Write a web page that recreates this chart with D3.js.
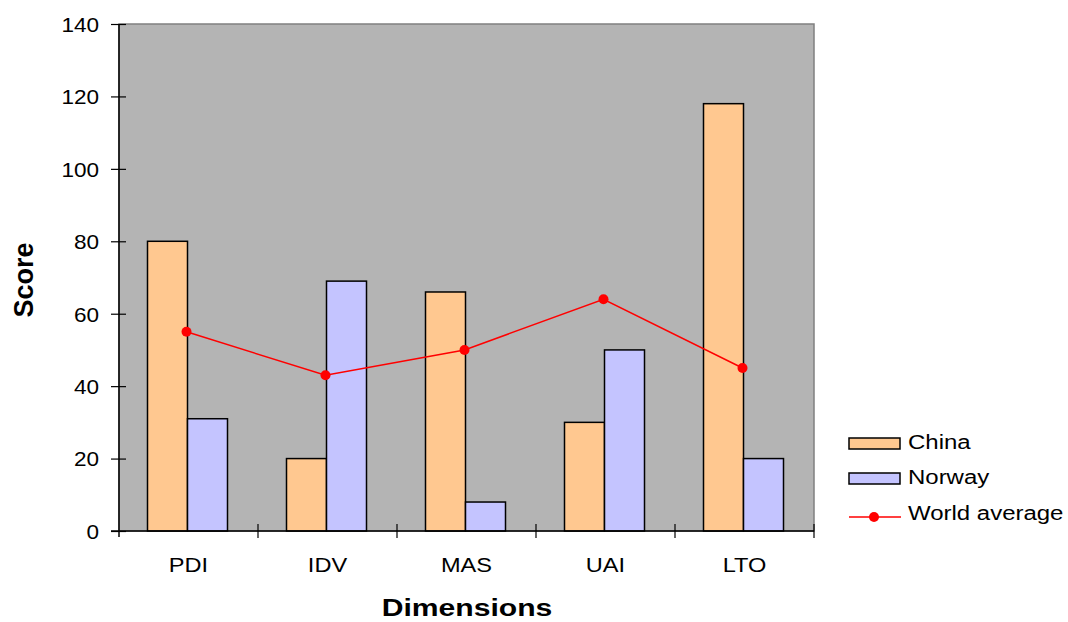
<!DOCTYPE html>
<html><head><meta charset="utf-8">
<script src="https://cdn.jsdelivr.net/npm/d3@7"></script>
<style>body{margin:0;background:#fff}svg{display:block;font-family:"Liberation Sans",Arial,sans-serif}</style>
</head><body>
<svg id="c" width="1068" height="622"></svg>
<script>
const categories = ["PDI","IDV","MAS","UAI","LTO"];
const china = [80,20,66,30,118];
const norway = [31,69,8,50,20];
const worldAvg = [55,43,50,64,45];
const yTicks = [0,20,40,60,80,100,120,140];
const seriesNames = ["China","Norway","World average"];

const svg = d3.select("#c");
const L=119, R=814, T=24, B=531;
const x = d3.scaleBand().domain(categories).range([L,R]).paddingInner(0).paddingOuter(0);
const y = d3.scaleLinear().domain([0,140]).range([B,T]);
const bw = 40;
const FONT = "Liberation Sans, Arial, sans-serif";

function stretched(parent, tx, ty, sx, txt, size, anchor, weight){
  return parent.append("text")
    .attr("transform",`translate(${tx},${ty}) scale(${sx},1)`)
    .attr("text-anchor",anchor||"start")
    .attr("font-size",size).attr("font-weight",weight||"normal")
    .attr("font-family",FONT).attr("fill","#000").text(txt);
}

svg.append("rect").attr("x",L).attr("y",T).attr("width",R-L).attr("height",B-T)
  .attr("fill","#b4b4b4").attr("stroke","#808080").attr("stroke-width",1.5);

const g = svg.append("g");
categories.forEach((c,i)=>{
  const cx = x(c)+x.bandwidth()/2 - 1;
  g.append("rect").attr("x",cx-bw).attr("y",y(china[i])).attr("width",bw).attr("height",y(0)-y(china[i]))
    .attr("fill","#ffc890").attr("stroke","#000").attr("stroke-width",1.5);
  g.append("rect").attr("x",cx).attr("y",y(norway[i])).attr("width",bw).attr("height",y(0)-y(norway[i]))
    .attr("fill","#c4c4ff").attr("stroke","#000").attr("stroke-width",1.5);
});

const px = i => x(categories[i])+x.bandwidth()/2 - 2;
const line = d3.line().x((d,i)=>px(i)).y(d=>y(d));
svg.append("path").datum(worldAvg).attr("d",line).attr("fill","none").attr("stroke","#ff0000").attr("stroke-width",1.5);
svg.selectAll("circle.wa").data(worldAvg).enter().append("circle")
  .attr("cx",(d,i)=>px(i)).attr("cy",d=>y(d)).attr("r",5).attr("fill","#ff0000");

// y axis
const yAxis = d3.axisLeft(y).tickValues(yTicks).tickSize(0).tickPadding(20);
const ya = svg.append("g").attr("transform",`translate(${L},0)`).call(yAxis);
ya.select(".domain").remove();
const ysx = 1.1;
ya.selectAll("text").attr("font-size",20.5).attr("fill","#000").attr("font-family",FONT)
  .attr("x",-20/ysx).attr("dy","0.36em").attr("transform",`scale(${ysx},1)`);
ya.selectAll(".tick").append("line").attr("x1",-8).attr("x2",7).attr("stroke","#000").attr("stroke-width",1.2);
svg.append("line").attr("x1",L).attr("x2",L).attr("y1",T).attr("y2",B+6).attr("stroke","#000").attr("stroke-width",1.5);
svg.append("line").attr("x1",L-8).attr("x2",R).attr("y1",B).attr("y2",B).attr("stroke","#000").attr("stroke-width",1.5);

// x axis
const xAxis = d3.axisBottom(x).tickSize(0);
const xa = svg.append("g").attr("transform",`translate(0,${B})`).call(xAxis);
xa.select(".domain").remove();
const xsx = 1.15;
xa.selectAll("text").attr("font-size",20.5).attr("fill","#000").attr("font-family",FONT)
  .attr("y",41).attr("dy",0).attr("x",0).attr("transform",`scale(${xsx},1)`);
const bounds = categories.map(c=>x(c)).concat([R]);
svg.selectAll("line.xt").data(bounds.slice(1)).enter().append("line")
  .attr("x1",d=>d).attr("x2",d=>d).attr("y1",B-7).attr("y2",B+7).attr("stroke","#000").attr("stroke-width",1.2);

stretched(svg, 467, 616, 1.31, "Dimensions", 23, "middle", "bold");
svg.append("text").attr("transform","translate(33,280) rotate(-90)").attr("text-anchor","middle")
  .attr("font-size",27).attr("font-weight","bold").attr("font-family",FONT).text("Score");

// legend
const lg = svg.append("g");
lg.append("rect").attr("x",849).attr("y",438).attr("width",51).attr("height",11).attr("fill","#ffc890").attr("stroke","#000").attr("stroke-width",1.5);
lg.append("rect").attr("x",849).attr("y",473).attr("width",51).attr("height",11).attr("fill","#c4c4ff").attr("stroke","#000").attr("stroke-width",1.5);
lg.append("line").attr("x1",849).attr("x2",901).attr("y1",517).attr("y2",517).attr("stroke","#ff0000").attr("stroke-width",1.5);
lg.append("circle").attr("cx",874).attr("cy",517).attr("r",5).attr("fill","#ff0000");
[449,484,520].forEach((yy,i)=>{
  stretched(lg, 908, yy, 1.23, seriesNames[i], 19.5, "start");
});
</script>
</body></html>
